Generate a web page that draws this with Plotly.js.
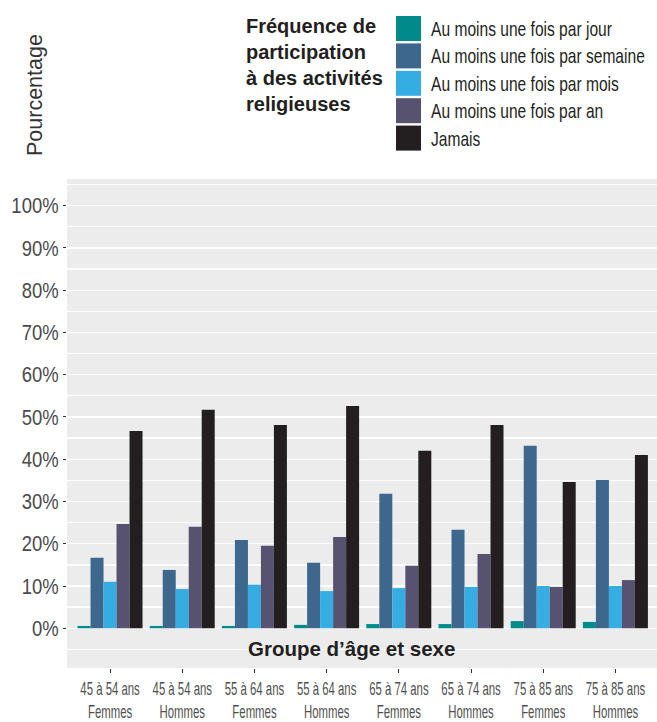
<!DOCTYPE html>
<html>
<head>
<meta charset="utf-8">
<script src="https://cdn.plot.ly/plotly-3.0.1.min.js"></script>
<style>html,body{margin:0;padding:0;background:#fff;}</style>
</head>
<body>
<div id="chart" style="width:657px;height:722px;"></div>
<script>
const categories = [
  '45 à 54 ans<br>Femmes', '45 à 54 ans<br>Hommes',
  '55 à 64 ans<br>Femmes', '55 à 64 ans<br>Hommes',
  '65 à 74 ans<br>Femmes', '65 à 74 ans<br>Hommes',
  '75 à 85 ans<br>Femmes', '75 à 85 ans<br>Hommes'
];
const seriesNames = [
  'Au moins une fois par jour',
  'Au moins une fois par semaine',
  'Au moins une fois par mois',
  'Au moins une fois par an',
  'Jamais'
];
const seriesColors = ['#008b8b', '#3d678d', '#36ade2', '#56526f', '#231f20'];
const jour    = [0.55, 0.55, 0.55, 0.8, 1.0, 1.0, 1.7, 1.5];
const semaine = [16.7, 13.8, 20.9, 15.5, 31.8, 23.3, 43.2, 35.1];
const mois    = [11.0, 9.3, 10.3, 8.8, 9.5, 9.8, 10.0, 10.0];
const an      = [24.7, 24.0, 19.5, 21.6, 14.8, 17.6, 9.8, 11.4];
const jamais  = [46.7, 51.7, 48.1, 52.6, 42.0, 48.1, 34.6, 41.0];
const yTickVals = [0, 10, 20, 30, 40, 50, 60, 70, 80, 90, 100];
const yTickText = ['0%', '10%', '20%', '30%', '40%', '50%', '60%', '70%', '80%', '90%', '100%'];
const legendTitle = 'Fréquence de<br>participation<br>à des activités<br>religieuses';
const xTitle = 'Groupe d’âge et sexe';
const yTitle = 'Pourcentage';

const seriesValues = [jour, semaine, mois, an, jamais];
const traces = seriesValues.map((vals, i) => ({
  type: 'bar',
  x: categories,
  y: vals,
  name: seriesNames[i],
  marker: {color: seriesColors[i], line: {width: 0}},
  hoverinfo: 'x+y+name'
}));

// pixel -> paper helpers
const L = 67, T = 179, W = 590, H = 489;
const px = x => (x - L) / W;
const py = y => (T + H - y) / H;

const shapes = [];
const annotations = [];
seriesNames.forEach((n, i) => {
  const top = 16 + 27.4 * i;
  shapes.push({type: 'rect', xref: 'paper', yref: 'paper',
    x0: px(396), x1: px(421), y0: py(top + 25), y1: py(top),
    fillcolor: seriesColors[i], line: {width: 0}});
  annotations.push({xref: 'paper', yref: 'paper', x: px(429), y: py(top + 12.5),
    xanchor: 'left', yanchor: 'middle', showarrow: false, text: n,
    font: {family: 'Liberation Sans, Arial, sans-serif', size: 20.5, color: '#231f20'}});
});
annotations.push({xref: 'paper', yref: 'paper', x: px(244), y: py(13),
  xanchor: 'left', yanchor: 'top', align: 'left', showarrow: false, text: legendTitle,
  font: {family: 'Liberation Sans, Arial, sans-serif', size: 20, color: '#231f20', weight: 'bold'}});
annotations.push({xref: 'paper', yref: 'paper', x: px(351), y: py(648),
  xanchor: 'center', yanchor: 'middle', showarrow: false, text: '<b>' + xTitle + '</b>',
  font: {family: 'Liberation Sans, Arial, sans-serif', size: 20.5, color: '#231f20'}});
annotations.push({xref: 'paper', yref: 'paper', x: px(35), y: py(95),
  xanchor: 'center', yanchor: 'middle', showarrow: false, text: yTitle, textangle: -90,
  font: {family: 'Liberation Sans, Arial, sans-serif', size: 21.5, color: '#333'}});

const layout = {
  width: 657, height: 722,
  margin: {l: L, r: 0, t: T, b: 722 - T - H, pad: 0},
  paper_bgcolor: '#ffffff',
  plot_bgcolor: '#ebeceb',
  showlegend: false,
  barmode: 'group',
  bargap: 0.1,
  bargroupgap: 0,
  font: {family: 'Liberation Sans, Arial, sans-serif', color: '#444'},
  xaxis: {
    type: 'category',
    range: [-0.596, 7.576],
    showgrid: false,
    zeroline: false,
    showline: false,
    tickangle: 0,
    ticks: 'outside', ticklen: 4, tickcolor: '#333', tickwidth: 1,
    ticklabelstandoff: 1,
    tickfont: {family: 'Liberation Sans, Arial, sans-serif', size: 17.5, color: '#505050'},
    fixedrange: true
  },
  yaxis: {
    range: [-9.4, 106.3],
    tickvals: yTickVals, ticktext: yTickText,
    showgrid: true, gridcolor: '#ffffff', gridwidth: 1.3,
    minor: {dtick: 5, tick0: 0, showgrid: true, gridcolor: '#ffffff', gridwidth: 1.3, ticks: ''},
    zeroline: true, zerolinecolor: '#ffffff', zerolinewidth: 1.3,
    showline: false,
    ticks: 'outside', ticklen: 3, tickcolor: '#333', tickwidth: 1,
    tickfont: {family: 'Liberation Sans, Arial, sans-serif', size: 22, color: '#4a4a4a'},
    fixedrange: true
  },
  shapes: shapes,
  annotations: annotations
};

// horizontally condense text (the reference uses a condensed face)
function condense(el, s, anchor) {
  const bb = el.getBBox();
  const ax = anchor === 'left' ? bb.x : anchor === 'right' ? bb.x + bb.width : bb.x + bb.width / 2;
  const orig = el.getAttribute('transform') || '';
  el.setAttribute('transform', orig + ' translate(' + ax + ',0) scale(' + s + ',1) translate(' + (-ax) + ',0)');
}

Plotly.newPlot('chart', traces, layout, {displayModeBar: false, staticPlot: true}).then(gd => {
  gd.querySelectorAll('.xtick text').forEach(t => condense(t, 0.65, 'center'));
  gd.querySelectorAll('.ytick text').forEach(t => condense(t, 0.84, 'right'));
  for (let i = 0; i < seriesNames.length; i++) {
    gd.querySelectorAll('.annotation[data-index="' + i + '"] text').forEach(t => condense(t, 0.76, 'left'));
  }
});
</script>
</body>
</html>
